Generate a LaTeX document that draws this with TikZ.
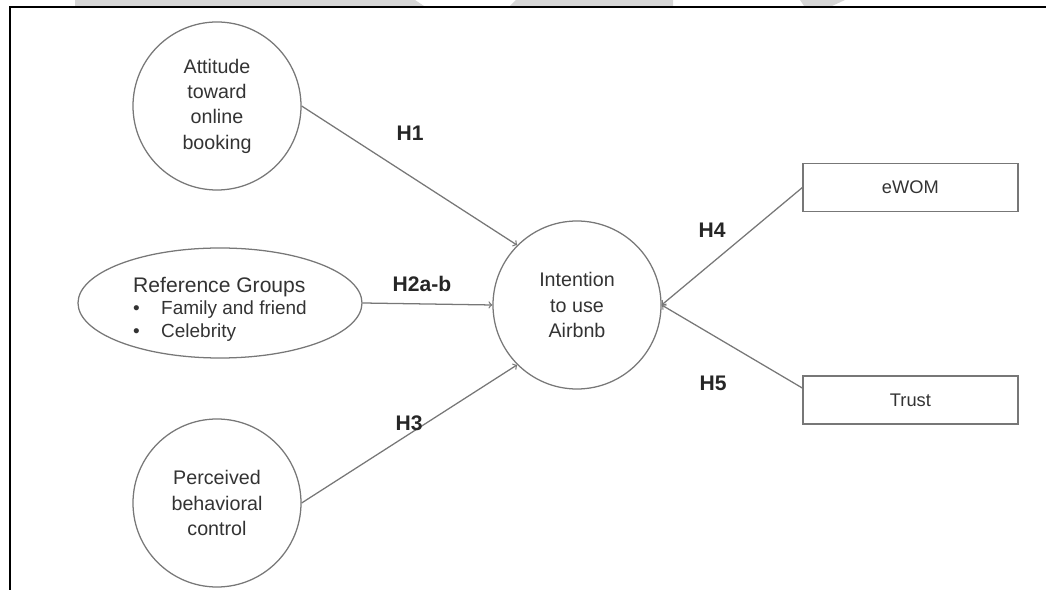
\documentclass[tikz,border=0pt]{standalone}
\usepackage{fontspec}
\setmainfont{Liberation Sans}
\usetikzlibrary{shapes.geometric}
\definecolor{linegray}{HTML}{777777}
\definecolor{textgray}{HTML}{333333}
\definecolor{markgray}{HTML}{D6D6D6}

\begin{document}
\begin{tikzpicture}[
  construct/.style={draw=linegray, line width=0.9pt, circle, minimum size=4.2cm, align=center,
    text=textgray, font=\fontsize{14}{18}\selectfont},
  itembox/.style={draw=linegray, line width=0.9pt, rectangle, minimum width=5.375cm, minimum height=1.2cm,
    text=textgray, font=\fontsize{13}{15}\selectfont},
  hlabel/.style={font=\fontsize{15}{17}\selectfont\bfseries, text=black!85},
  path/.style={draw=linegray, line width=0.9pt, ->}
]
\useasboundingbox (0,0) rectangle (26.15,14.75);
% mark at the top
\fill[markgray] (1.875,14.6) rectangle (10.375,14.75);
\fill[markgray] (10.375,14.75) -- (10.6,14.6) -- (10.375,14.6) -- cycle;
\fill[markgray] (12.75,14.6) -- (12.9,14.75) -- (16.825,14.75) -- (16.825,14.6) -- cycle;
\fill[markgray] (20,14.75) -- (21.125,14.75) -- (20.8,14.6) -- (20.1,14.6) -- cycle;
% frame
\draw[black, line width=1.3pt] (0.25,0) -- (0.25,14.575) -- (26.15,14.575);

% constructs
\node[construct] (attitude) at (5.425,12.1) {Attitude\\toward\\online\\booking};
\node[draw=linegray, line width=0.9pt, ellipse, minimum width=7.1cm, minimum height=2.75cm] (refgroups) at (5.5,7.175) {};
\node[align=left, text=textgray, font=\fontsize{13.5}{16}\selectfont] (reftext) at ([yshift=-0.15cm]refgroups.center)
  {{\fontsize{15}{16}\selectfont Reference Groups}\\
   \makebox[0.7cm][l]{\textbullet}Family and friend\\
   \makebox[0.7cm][l]{\textbullet}Celebrity};
\node[construct] (perceived) at (5.425,2.175) {Perceived\\behavioral\\control};
\node[construct] (intention) at (14.425,7.125) {Intention\\to use\\Airbnb};
\node[itembox] (ewom) at (22.76,10.06) {eWOM};
\node[itembox] (trust) at (22.76,4.75) {Trust};

% hypotheses
\draw[path] (attitude.east) -- (intention.135);
\draw[path] (refgroups.east) -- (intention.west);
\draw[path] (perceived.east) -- (intention.225);
\draw[path] (ewom.west) -- (intention.east);
\draw[path] ([yshift=0.3cm]trust.west) -- (intention.east);

\node[hlabel] (h1) at (10.25,11.425) {H1};
\node[hlabel] (h2) at (10.55,7.65) {H2a-b};
\node[hlabel] (h3) at (10.225,4.175) {H3};
\node[hlabel] (h4) at (17.8,9.0) {H4};
\node[hlabel] (h5) at (17.825,5.175) {H5};
\end{tikzpicture}
\end{document}
